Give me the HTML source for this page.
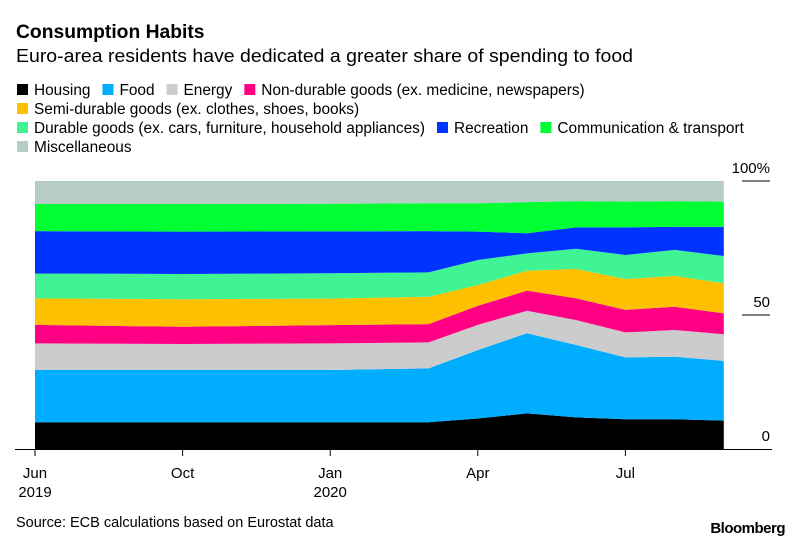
<!DOCTYPE html>
<html><head><meta charset="utf-8"><style>
body{margin:0;background:#fff;font-family:"Liberation Sans",sans-serif}
svg{display:block}
text{font-family:"Liberation Sans",sans-serif}
</style></head><body>
<svg id="chart" width="800" height="544" viewBox="0 0 800 544">
<text x="16" y="38" font-size="19.3" font-weight="bold" fill="#000">Consumption Habits</text>
<text x="16" y="62" font-size="18.5" fill="#000" textLength="617" lengthAdjust="spacingAndGlyphs">Euro-area residents have dedicated a greater share of spending to food</text>
<g id="legend"></g>
<g id="areas"></g>
<g id="axes"></g>
<text x="16" y="527" font-size="14.5" fill="#000">Source: ECB calculations based on Eurostat data</text>
<text x="785" y="533" font-size="15" font-weight="bold" text-anchor="end" fill="#000" letter-spacing="-0.5">Bloomberg</text>
</svg>
<script>
const monthIndex = [0, 3, 6, 8, 9, 10, 11, 12, 13, 14];
const housing = [10.0, 10.0, 10.0, 10.0, 11.4, 13.3, 11.8, 11.1, 11.1, 10.6];
const food = [19.5, 19.5, 19.5, 20.1, 25.5, 29.9, 27.0, 23.1, 23.3, 22.3];
const energy = [9.9, 9.7, 9.9, 9.7, 9.4, 8.4, 9.3, 9.3, 10.0, 9.9];
const nonDurable = [6.9, 6.4, 6.8, 6.8, 7.1, 7.5, 8.1, 8.4, 8.7, 7.8];
const semiDurable = [9.9, 10.3, 9.9, 10.2, 7.8, 7.4, 11.0, 11.5, 11.5, 11.2];
const durable = [9.3, 9.4, 9.5, 9.1, 9.3, 6.5, 7.5, 9.0, 9.7, 10.2];
const recreation = [15.8, 15.8, 15.6, 15.4, 10.6, 7.5, 8.0, 10.3, 8.6, 10.9];
const communication = [10.1, 10.3, 10.3, 10.4, 10.6, 11.6, 9.8, 9.6, 9.6, 9.4];
const miscellaneous = [8.6, 8.6, 8.5, 8.3, 8.3, 7.9, 7.5, 7.7, 7.5, 7.7];
const yTicks = [0, 50, 100];
const yTickLabels = ["0", "50", "100%"];
const xTickMonths = [0, 3, 6, 9, 12];
const xTickLabels = ["Jun", "Oct", "Jan", "Apr", "Jul"];
const xTickYears = ["2019", "", "2020", "", ""];

const seriesNames = ["Housing","Food","Energy","Non-durable goods (ex. medicine, newspapers)","Semi-durable goods (ex. clothes, shoes, books)","Durable goods (ex. cars, furniture, household appliances)","Recreation","Communication & transport","Miscellaneous"];
const seriesData = [housing, food, energy, nonDurable, semiDurable, durable, recreation, communication, miscellaneous];
const colors = ["#000000","#00adff","#cccccc","#ff0084","#ffc000","#40f393","#0033ff","#00ff33","#b6ccc6"];
const keys = ["housing","food","energy","non-durable","semi-durable","durable","recreation","communication","miscellaneous"];

const NS = "http://www.w3.org/2000/svg";
const x = m => 35 + m * 49.2;
const y = v => 449 - v * 2.68;
function mk(tag, attrs, parent){const e=document.createElementNS(NS,tag);for(const k in attrs)e.setAttribute(k,attrs[k]);parent.appendChild(e);return e;}

const areas = document.getElementById("areas");
let base = monthIndex.map(()=>0);
seriesData.forEach((s,si)=>{
  const top = base.map((b,i)=>b+s[i]);
  let d = "M" + monthIndex.map((m,i)=>x(m)+","+y(top[i])).join(" L");
  for(let i=monthIndex.length-1;i>=0;i--) d += " L"+x(monthIndex[i])+","+y(base[i]);
  d += " Z";
  const p = mk("path",{d:d,fill:colors[si]},areas);
  
  
  base = top;
});

const legend = document.getElementById("legend");
const rows = [[0,1,2,3],[4],[5,6,7],[8]];
const rowY = [95,114,133,152];
const ctx = document.createElement("canvas").getContext("2d");
ctx.font = "15.4px 'Liberation Sans'";
rows.forEach((r,ri)=>{
  let cx = 17;
  r.forEach(si=>{
    const g = mk("g",{},legend);
    
    
    mk("rect",{x:cx,y:rowY[ri]-11,width:11,height:11,fill:colors[si]},g);
    const t = mk("text",{x:cx+17,y:rowY[ri],"font-size":"15.4",fill:"#000"},g);
    t.textContent = seriesNames[si];
    cx += 17 + ctx.measureText(seriesNames[si]).width + 12;
  });
});

const axes = document.getElementById("axes");
const base0 = mk("line",{x1:15,y1:449.5,x2:772,y2:449.5,stroke:"#000","stroke-width":1},axes);


yTicks.forEach((v,i)=>{
  if(v>0){
    const l = mk("line",{x1:742,y1:y(v),x2:770,y2:y(v),stroke:"#000","stroke-width":1},axes);
    
    
  }
  const t = mk("text",{x:770,y:y(v)-8,"font-size":"15","text-anchor":"end",fill:"#000"},axes);
  
  
  t.textContent = yTickLabels[i];
});
xTickMonths.forEach((m,i)=>{
  const l = mk("line",{x1:x(m),y1:449,x2:x(m),y2:456,stroke:"#000","stroke-width":1},axes);
  
  
  const t = mk("text",{x:x(m),y:478,"font-size":"15","text-anchor":"middle",fill:"#000"},axes);
  
  
  t.textContent = xTickLabels[i];
  if(xTickYears[i]){
    const ty = mk("text",{x:x(m),y:497,"font-size":"15","text-anchor":"middle",fill:"#000"},axes);
    
    
    ty.textContent = xTickYears[i];
  }
});
</script>
</body></html>
